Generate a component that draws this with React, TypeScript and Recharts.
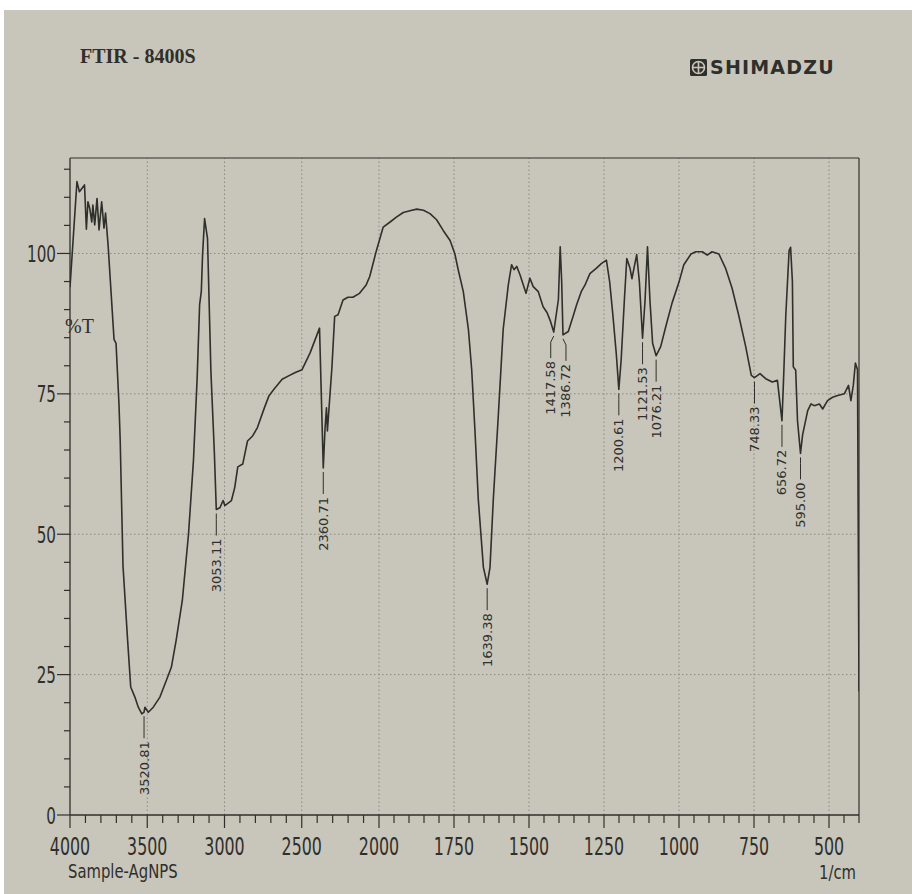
import React from "react"
import { ComposedChart, Line, Scatter, XAxis, YAxis, ReferenceLine } from "recharts"

const PAPER = "#c8c6ba"
const INK = "#2f2f2c"
const GRID = "#8a8980"

// [wavenumber 1/cm, %T], high to low wavenumber
const BAND_4000_3000: [number, number][] = [
  [4000, 94], [3955, 112.8], [3939, 111.0], [3906, 112.2], [3894, 104.3], [3884, 109.2],
  [3872, 108.0], [3859, 105.6], [3852, 108.6], [3840, 105.1], [3825, 109.8], [3812, 104.2],
  [3795, 109.2], [3780, 104.5], [3770, 107.2], [3753, 101.3], [3715, 84.7], [3702, 84.0],
  [3683, 73.2], [3675, 66.6], [3657, 44.4], [3627, 31.1], [3607, 22.8], [3580, 21.0],
  [3558, 19.2], [3535, 18.0], [3520.81, 18.3], [3515, 19.2], [3493, 18.3], [3461, 19.2],
  [3418, 21.0], [3376, 24.0], [3344, 26.3], [3313, 31.1], [3273, 38.2], [3233, 50.0],
  [3201, 63.1], [3177, 77.8], [3161, 90.9], [3150, 93.3], [3142, 99.7], [3129, 106.2],
  [3110, 102.7], [3088, 79.0], [3066, 64.8], [3053.11, 54.4], [3030, 54.7], [3009, 56.0],
]

const BAND_3000_2000: [number, number][] = [
  [2998, 55.1], [2955, 56.0], [2934, 58.3], [2914, 62.0], [2882, 62.5], [2851, 66.6],
  [2818, 67.5], [2787, 69.0], [2742, 72.5], [2713, 74.6], [2680, 75.8], [2627, 77.6],
  [2585, 78.2], [2542, 78.8], [2498, 79.3], [2446, 82.3], [2385, 86.7], [2360.71, 61.8],
  [2349, 69.0], [2340, 72.5], [2334, 68.4], [2305, 79.6], [2287, 88.8], [2265, 89.1],
  [2233, 91.7], [2201, 92.2], [2169, 92.2], [2126, 92.9], [2083, 94.4], [2060, 95.9],
  [2017, 100.5],
]

const BAND_2000_1500: [number, number][] = [
  [1986, 104.7], [1963, 105.6], [1941, 106.5], [1919, 107.3], [1897, 107.6], [1874, 107.9],
  [1852, 107.7], [1830, 107.1], [1808, 106.0], [1786, 104.1], [1763, 102.3], [1747, 99.9],
  [1736, 97.1], [1719, 93.2], [1702, 86.5], [1691, 79.3], [1680, 68.3], [1669, 56.2],
  [1652, 44.1], [1639.38, 41.1], [1630, 44.1], [1619, 56.2], [1602, 71.4], [1586, 86.5],
  [1569, 94.4], [1558, 98.0], [1550, 97.1], [1541, 97.7], [1530, 96.2], [1510, 92.9],
]

const BAND_1500_1000: [number, number][] = [
  [1497, 95.6], [1486, 94.1], [1469, 93.2], [1453, 90.5], [1440, 89.5], [1429, 88.0],
  [1417.58, 86.0], [1402, 91.8], [1396, 101.2], [1391, 94.9], [1386.72, 85.5], [1369, 86.1],
  [1353, 88.8], [1341, 90.9], [1325, 93.3], [1314, 94.3], [1297, 96.4], [1275, 97.4],
  [1259, 98.2], [1242, 98.8], [1231, 94.9], [1220, 88.8], [1209, 82.1], [1200.61, 75.8],
  [1193, 80.9], [1182, 91.8], [1174, 99.1], [1163, 97.3], [1157, 95.5], [1141, 99.8],
  [1132, 94.9], [1121.53, 84.9], [1113, 91.8], [1105, 101.2], [1097, 91.8], [1088, 84.0],
  [1076.21, 81.8], [1061, 83.4], [1044, 87.0], [1023, 91.2], [1000, 94.9],
]

const BAND_1000_400: [number, number][] = [
  [984, 98.0], [960, 99.9], [944, 100.3], [922, 100.3], [906, 99.7], [890, 100.3],
  [867, 99.9], [845, 97.4], [823, 93.8], [801, 89.0], [778, 83.5], [759, 78.3],
  [748.33, 77.9], [730, 78.6], [711, 77.7], [689, 77.1], [672, 77.4], [656.72, 70.2],
  [652, 76.8], [644, 89.0], [633, 100.5], [628, 101.1], [622, 95.0], [619, 79.8],
  [611, 79.2], [605, 70.2], [595, 64.4], [588, 67.7], [571, 72.0], [560, 73.2],
  [549, 72.9], [532, 73.2], [521, 72.3], [505, 73.8], [488, 74.4], [471, 74.7],
  [449, 75.0], [435, 76.5], [427, 73.8], [419, 76.5], [412, 80.5], [405, 79.3], [400, 22],
]

const PEAK_LABELS = ["3520.81", "3053.11", "2360.71", "1639.38", "1417.58", "1386.72", "1200.61", "1121.53", "1076.21", "748.33", "656.72", "595.00"]
const PEAK_T = [18.3, 54.4, 61.8, 41.1, 86.0, 85.5, 75.8, 84.9, 81.8, 77.9, 70.2, 64.4]

const X_MAJOR = [4000, 3500, 3000, 2500, 2000, 1750, 1500, 1250, 1000, 750, 500]
const Y_MAJOR = [0, 25, 50, 75, 100]
const Y_TOP = 117

// the printout compresses 4000-2000 to about half scale
const UPPER_SPAN = 1030
const toPos = (w: number) => (w >= 2000 ? ((4000 - w) * UPPER_SPAN) / 2000 : UPPER_SPAN + (2000 - w))
const fromPos = (p: number) => (p <= UPPER_SPAN ? 4000 - (p * 2000) / UPPER_SPAN : 2000 - (p - UPPER_SPAN))

const LABEL_NUDGE: Record<string, number> = { "1417.58": -3, "1386.72": 3 }

const spectrum = [...BAND_4000_3000, ...BAND_3000_2000, ...BAND_2000_1500, ...BAND_1500_1000, ...BAND_1000_400].map(
  ([w, t]) => ({ pos: toPos(w), t })
)
const peaks = PEAK_LABELS.map((label, i) => ({ pos: toPos(parseFloat(label)), t: PEAK_T[i], label }))

const xTicks: number[] = []
for (let w = 4000; w > 2000; w -= 100) xTicks.push(toPos(w))
for (let w = 2000; w >= 400; w -= 50) xTicks.push(toPos(w))
const yTicks: number[] = []
for (let v = 0; v <= 115; v += 5) yTicks.push(v)

function XTick({ x, y, payload }: any) {
  const w = Math.round(fromPos(payload.value))
  const major = X_MAJOR.includes(w)
  return (
    <g>
      <line x1={x} x2={x} y1={y} y2={y + (major ? 13 : 8)} stroke={INK} strokeWidth={1.2} />
      {major && (
        <text
          transform={`translate(${x},${y + 40}) scale(0.66,1)`}
          textAnchor="middle"
          fontFamily="DejaVu Sans"
          fontSize={24}
          fill={INK}
        >
          {w}
        </text>
      )}
    </g>
  )
}

function YTick({ x, y, payload }: any) {
  const v = payload.value
  const major = Y_MAJOR.includes(v)
  return (
    <g>
      <line x1={x - (major ? 13 : 6)} x2={x} y1={y} y2={y} stroke={INK} strokeWidth={1.2} />
      {major && (
        <text
          transform={`translate(${x - 14},${y + 8.5}) scale(0.66,1)`}
          textAnchor="end"
          fontFamily="DejaVu Sans"
          fontSize={23}
          fill={INK}
        >
          {v}
        </text>
      )}
    </g>
  )
}

function PeakLabel({ cx, cy, payload }: any) {
  const x = cx + (LABEL_NUDGE[payload.label] ?? 0)
  return (
    <g>
      <path d={`M${cx},${cy + 4} L${x},${cy + 10} L${x},${cy + 26}`} stroke={INK} strokeWidth={1} fill="none" />
      <text
        transform={`translate(${x + 4.5},${cy + 29}) rotate(-90)`}
        textAnchor="end"
        fontFamily="DejaVu Sans"
        fontSize={13}
        fill={INK}
      >
        {payload.label}
      </text>
    </g>
  )
}

export default function App() {
  const textStyle = { position: "absolute" as const, color: INK, whiteSpace: "nowrap" as const, lineHeight: 1 }
  return (
    <div style={{ position: "fixed", inset: 0, background: "#fff", overflow: "hidden" }}>
      <div style={{ position: "absolute", left: 4, top: 10, right: 0, bottom: 0, background: PAPER }} />

      <div style={{ ...textStyle, left: 80, top: 46, fontFamily: "Liberation Serif", fontWeight: 700, fontSize: 20 }}>
        FTIR - 8400S
      </div>
      <svg style={{ position: "absolute", left: 690, top: 59 }} width={17} height={17}>
        <rect x={0} y={0} width={17} height={17} rx={1.5} fill={INK} />
        <circle cx={8.5} cy={8.5} r={6} fill="none" stroke={PAPER} strokeWidth={1.6} />
        <line x1={2.5} x2={14.5} y1={8.5} y2={8.5} stroke={PAPER} strokeWidth={1.6} />
        <line x1={8.5} x2={8.5} y1={2.5} y2={14.5} stroke={PAPER} strokeWidth={1.6} />
      </svg>
      <div style={{ ...textStyle, left: 710, top: 58, fontFamily: "DejaVu Sans", fontWeight: 700, fontSize: 19, letterSpacing: 1.2 }}>
        SHIMADZU
      </div>

      <div style={{ ...textStyle, left: 65, top: 316, fontFamily: "Liberation Serif", fontSize: 20 }}>%T</div>
      <div
        style={{
          ...textStyle,
          left: 68,
          top: 862,
          fontFamily: "DejaVu Sans",
          fontSize: 19,
          transform: "scaleX(0.78)",
          transformOrigin: "left top",
        }}
      >
        Sample-AgNPS
      </div>
      <div
        style={{
          ...textStyle,
          left: 819,
          top: 863,
          fontFamily: "DejaVu Sans",
          fontSize: 19,
          transform: "scaleX(0.78)",
          transformOrigin: "left top",
        }}
      >
        1/cm
      </div>

      <div style={{ position: "absolute", left: 0, top: 0 }}>
        <ComposedChart width={912} height={894} margin={{ top: 158, right: 53, bottom: 20, left: 10 }}>
          <XAxis
            type="number"
            dataKey="pos"
            domain={[0, toPos(400)]}
            ticks={xTicks}
            interval={0}
            tick={(p: any) => <XTick {...p} />}
            tickLine={false}
            tickSize={0}
            tickMargin={0}
            axisLine={{ stroke: INK, strokeWidth: 1.3 }}
            height={59}
            allowDataOverflow
          />
          <YAxis
            type="number"
            dataKey="t"
            domain={[0, Y_TOP]}
            ticks={yTicks}
            interval={0}
            tick={(p: any) => <YTick {...p} />}
            tickLine={false}
            tickSize={0}
            tickMargin={0}
            axisLine={{ stroke: INK, strokeWidth: 1.3 }}
            width={60}
            allowDataOverflow
          />
          {Y_MAJOR.slice(1).map((v) => (
            <ReferenceLine key={`h${v}`} y={v} stroke={GRID} strokeDasharray="1.5 2.5" />
          ))}
          {X_MAJOR.slice(1).map((w) => (
            <ReferenceLine key={`v${w}`} x={toPos(w)} stroke={GRID} strokeDasharray="1.5 2.5" />
          ))}
          <ReferenceLine y={Y_TOP} stroke={INK} strokeWidth={1.2} />
          <ReferenceLine x={toPos(400)} stroke={INK} strokeWidth={1.2} />
          <Line
            data={spectrum}
            dataKey="t"
            type="linear"
            stroke={INK}
            strokeWidth={1.6}
            strokeLinejoin="round"
            dot={false}
            activeDot={false}
            isAnimationActive={false}
          />
          <Scatter data={peaks} dataKey="t" shape={(p: any) => <PeakLabel {...p} />} isAnimationActive={false} />
        </ComposedChart>
      </div>
    </div>
  )
}
